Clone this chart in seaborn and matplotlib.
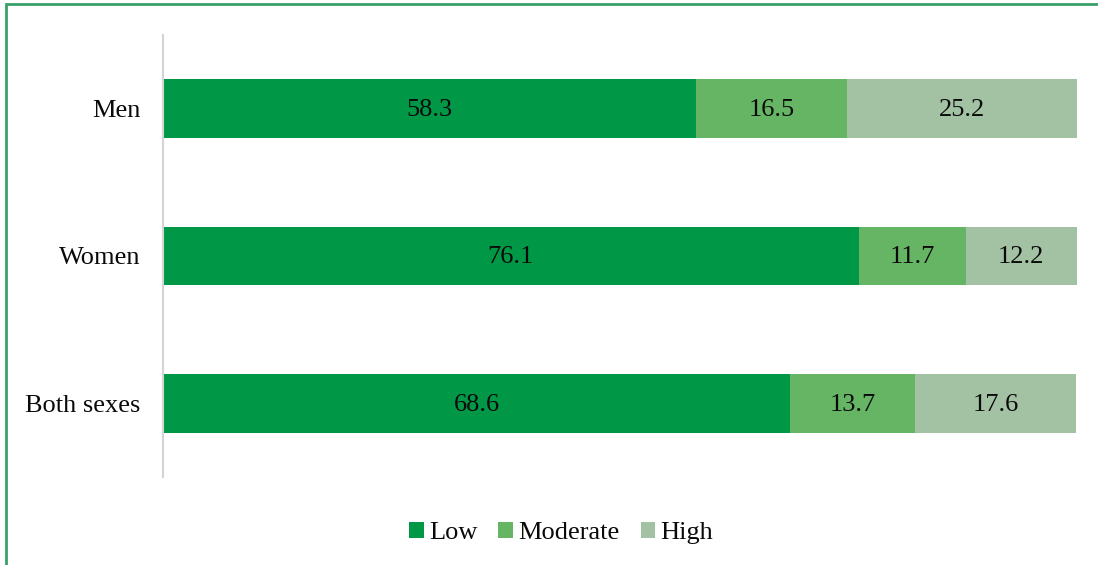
import seaborn as sns
import matplotlib.pyplot as plt
import pandas as pd
from matplotlib.patches import Patch, Rectangle

# Data (percent)
groups = ["Men", "Women", "Both sexes"]
low = [58.3, 76.1, 68.6]
moderate = [16.5, 11.7, 13.7]
high = [25.2, 12.2, 17.6]

series_names = ["Low", "Moderate", "High"]
colors = ["#009846", "#66b565", "#a2c2a3"]

df = pd.DataFrame({"group": groups, "Low": low, "Moderate": moderate, "High": high})
df["cum_low"] = df["Low"]
df["cum_mod"] = df["Low"] + df["Moderate"]
df["cum_high"] = df["Low"] + df["Moderate"] + df["High"]

sns.set_style("white")
plt.rcParams["font.family"] = ["Liberation Serif", "DejaVu Serif"]

fig = plt.figure(figsize=(10.98, 5.65), dpi=100)
ax = fig.add_axes([0.1485, 0.1558, 0.8324, 0.7823])

# stacked bars: draw cumulative totals from back to front
for col, color in zip(["cum_high", "cum_mod", "cum_low"], colors[::-1]):
    sns.barplot(data=df, x=col, y="group", order=groups, color=color,
                width=0.40, orient="h", ax=ax, saturation=1, linewidth=0)

# segment labels
for i, g in enumerate(groups):
    starts = [0, low[i], low[i] + moderate[i]]
    vals = [low[i], moderate[i], high[i]]
    for s, v in zip(starts, vals):
        ax.text(s + v / 2, i + 0.01, f"{v:.1f}", ha="center", va="center",
                fontsize=19, color="#0a0a0a")

ax.set_xlim(0, 100)
ax.set_ylim(2.5, -0.5)
ax.set_xlabel("")
ax.set_ylabel("")
ax.set_xticks([])
ax.tick_params(axis="y", length=0, pad=16, labelsize=19, labelcolor="#0a0a0a")
for side in ["top", "right", "bottom"]:
    ax.spines[side].set_visible(False)
ax.spines["left"].set_color("#d4d4d4")
ax.spines["left"].set_linewidth(1.5)

handles = [Patch(facecolor=c, edgecolor="none") for c in colors]
fig.legend(handles, series_names, loc="center", bbox_to_anchor=(0.511, 0.057),
           ncol=3, frameon=False, fontsize=19, handlelength=0.55, handleheight=0.55,
           handletextpad=0.2, columnspacing=0.8, labelcolor="#0a0a0a")

# green frame around the chart area
fig.patches.append(Rectangle((6 / 1098, -0.02), 1.1, 1 - 4 / 565 + 0.02,
                             transform=fig.transFigure, fill=False,
                             edgecolor="#3aa06a", linewidth=2))

plt.savefig("out.png", dpi=100)
plt.close()
